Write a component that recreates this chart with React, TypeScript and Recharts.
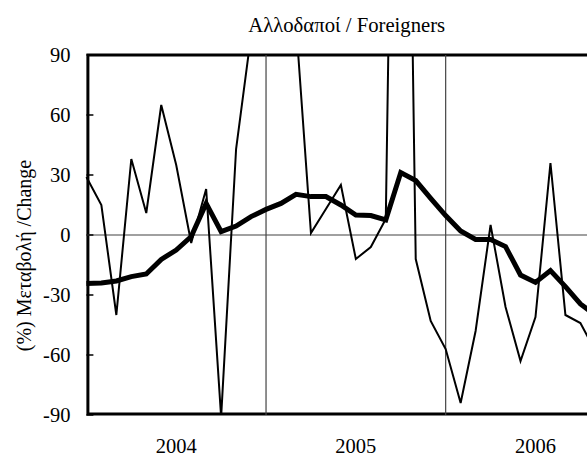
import { LineChart, Line, XAxis, YAxis, ReferenceLine, ReferenceArea } from "recharts";

// month index from Jan 2004
const monthIndex = [
  0, 1, 2, 3, 4, 5, 6, 7, 8, 9, 10, 11,
  12, 13, 14, 15, 16, 17, 18, 19, 20, 21, 22, 23,
  24, 25, 26, 27, 28, 29, 30, 31, 32, 33, 34,
];

// monthly % change (thin line)
const monthlyChange = [
  29, 15, -40, 38, 11, 65, 35, -4, 23, -91, 43, 100,
  180, 150, 106, 1, 13, 25, -12, -6, 8, 500, -12, -43,
  -57, -84, -48, 5, -36, -63, -41, 36, -40, -44, -58,
];

// moving average (thick line)
const movingAvg = [
  -24.2, -24, -23, -20.8, -19.5, -12.2, -7.5, -0.8, 15.8, 1.7, 4.5, 9.2,
  12.8, 15.8, 20.3, 19.2, 19.2, 15, 10, 9.7, 7.5, 31.2, 27.2, 18.3,
  9.7, 2, -2.2, -2.2, -5.8, -20, -23.7, -17.8, -25.8, -34.5, -40,
];

const yearTicks = [6, 18, 30];
const yearLabels = ["2004", "2005", "2006"];
const yTicks = [-90, -60, -30, 0, 30, 60, 90];

const data = monthIndex.map((idx, i) => ({
  idx,
  monthly: monthlyChange[i],
  avg: movingAvg[i],
}));

const FONT = "Liberation Serif, Times New Roman, serif";

export default function App() {
  return (
    <div
      style={{
        position: "fixed",
        left: 0,
        top: 0,
        width: 587,
        height: 455,
        overflow: "hidden",
        background: "#fff",
        fontFamily: FONT,
      }}
    >
      <LineChart
        width={640}
        height={455}
        data={data}
        margin={{ top: 55, right: 14.7, left: 0, bottom: 0 }}
        style={{ fontFamily: FONT }}
      >
        <XAxis
          dataKey="idx"
          type="number"
          domain={[0, 36]}
          ticks={yearTicks}
          tickFormatter={(v: number) => yearLabels[yearTicks.indexOf(v)]}
          height={40}
          axisLine={false}
          tickLine={false}
          tickMargin={17}
          tick={{ fill: "#000", fontSize: 20.5, fontFamily: FONT }}
        />
        <YAxis
          type="number"
          domain={[-90, 90]}
          ticks={yTicks}
          allowDataOverflow
          width={86.4}
          axisLine={false}
          tickSize={-7}
          tickMargin={23}
          tickLine={{ stroke: "#000", strokeWidth: 1.5 }}
          tick={{ fill: "#000", fontSize: 20.5, fontFamily: FONT }}
          interval={0}
        />
        <ReferenceLine y={0} stroke="#808080" strokeWidth={1.5} />
        <ReferenceLine x={12} stroke="#444" strokeWidth={1.2} />
        <ReferenceLine x={24} stroke="#444" strokeWidth={1.2} />
        <Line
          type="linear"
          dataKey="monthly"
          stroke="#000"
          strokeWidth={2}
          dot={false}
          isAnimationActive={false}
        />
        <Line
          type="linear"
          dataKey="avg"
          stroke="#000"
          strokeWidth={5}
          dot={false}
          isAnimationActive={false}
        />
        <ReferenceArea
          x1={0.1}
          x2={36}
          y1={-89.5}
          y2={90}
          fill="none"
          stroke="#000"
          strokeWidth={3}
          fillOpacity={0}
        />
      </LineChart>
      <svg
        width={587}
        height={455}
        style={{ position: "absolute", left: 0, top: 0, pointerEvents: "none" }}
      >
        <text x={346.7} y={32} textAnchor="middle" fontSize={20.7} fontFamily={FONT} fill="#000">
          Αλλοδαποί / Foreigners
        </text>
        <text
          x={31}
          y={255.5}
          textAnchor="middle"
          fontSize={20}
          fontFamily={FONT}
          fill="#000"
          transform="rotate(-90 31 255.5)"
        >
          (%) Μεταβολή /Change
        </text>
      </svg>
    </div>
  );
}
